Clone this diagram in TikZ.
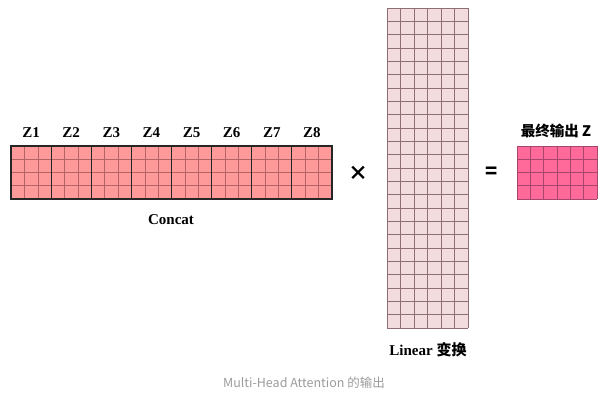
\documentclass[tikz,border=0pt]{standalone}
\usepackage{fontspec}
\setmainfont{Liberation Serif}
\newfontfamily\cjk{Noto Sans CJK SC}
\usetikzlibrary{positioning}
\definecolor{concatred}{HTML}{FF9A9A}
\definecolor{linpink}{HTML}{F3DCDE}
\definecolor{outpink}{HTML}{FF6A9B}
\definecolor{concatline}{HTML}{B46464}
\definecolor{linline}{HTML}{8E7074}
\definecolor{outline}{HTML}{A8456C}
\definecolor{capgray}{HTML}{9B9B9B}

\begin{document}
\begin{tikzpicture}[x=1pt, y=-1pt,
  thin grid/.style={draw=concatline, line width=0.5pt},
  lin grid/.style={draw=linline, line width=0.6pt},
  out grid/.style={draw=outline, line width=0.5pt},
  block edge/.style={draw=black!85, line width=1.1pt},
  head label/.style={font=\bfseries\fontsize{15}{16}\selectfont},
  op label/.style={font=\cjk\fontsize{20}{20}\selectfont}]
\useasboundingbox (0,0) rectangle (608,411);

% Concat: eight heads side by side
\foreach \i in {1,...,8} {
  \pgfmathsetmacro{\xa}{11+(\i-1)*40.125}
  \fill[concatred] (\xa,146) rectangle ++(40.125,53);
  \foreach \c in {1,2} \draw[thin grid] (\xa+\c*13.375,146) -- ++(0,53);
  \foreach \r in {1,2,3} \draw[thin grid] (\xa,146+\r*13.25) -- ++(40.125,0);
  \node[head label] (z\i) at (\xa+20.06,133) {Z\i};
}
\foreach \i in {1,...,8} {
  \pgfmathsetmacro{\xa}{11+(\i-1)*40.125}
  \draw[block edge] (\xa,146) rectangle ++(40.125,53);
}
\node[head label] (concat) at (171,220) {Concat};

% Linear weight matrix
\fill[linpink] (387,8) rectangle (468,328);
\foreach \c in {0,...,6} \draw[lin grid] (387+\c*13.5,8) -- ++(0,320);
\foreach \r in {0,...,24} \draw[lin grid] (387,8+\r*13.333) -- ++(81,0);
\node[head label] (linear) at (428,350) {Linear {\cjk\bfseries 变换}};

% output
\fill[outpink] (517,146) rectangle (597,199);
\foreach \c in {0,...,6} \draw[out grid] (517+\c*13.333,146) -- ++(0,53);
\foreach \r in {0,...,4} \draw[out grid] (517,146+\r*13.25) -- ++(80,0);
\node[font=\cjk\bfseries\fontsize{14.5}{15}\selectfont] (out) at (556,131) {最终输出\ Z};

% operators
\node[op label] (times) at (358,173) {\bfseries ×};
\node[op label] (equal) at (492,173) {\bfseries =};

\node[font=\cjk\fontsize{12.5}{13}\selectfont, text=capgray] (caption) at (304,383) {Multi-Head Attention 的输出};
\end{tikzpicture}
\end{document}
